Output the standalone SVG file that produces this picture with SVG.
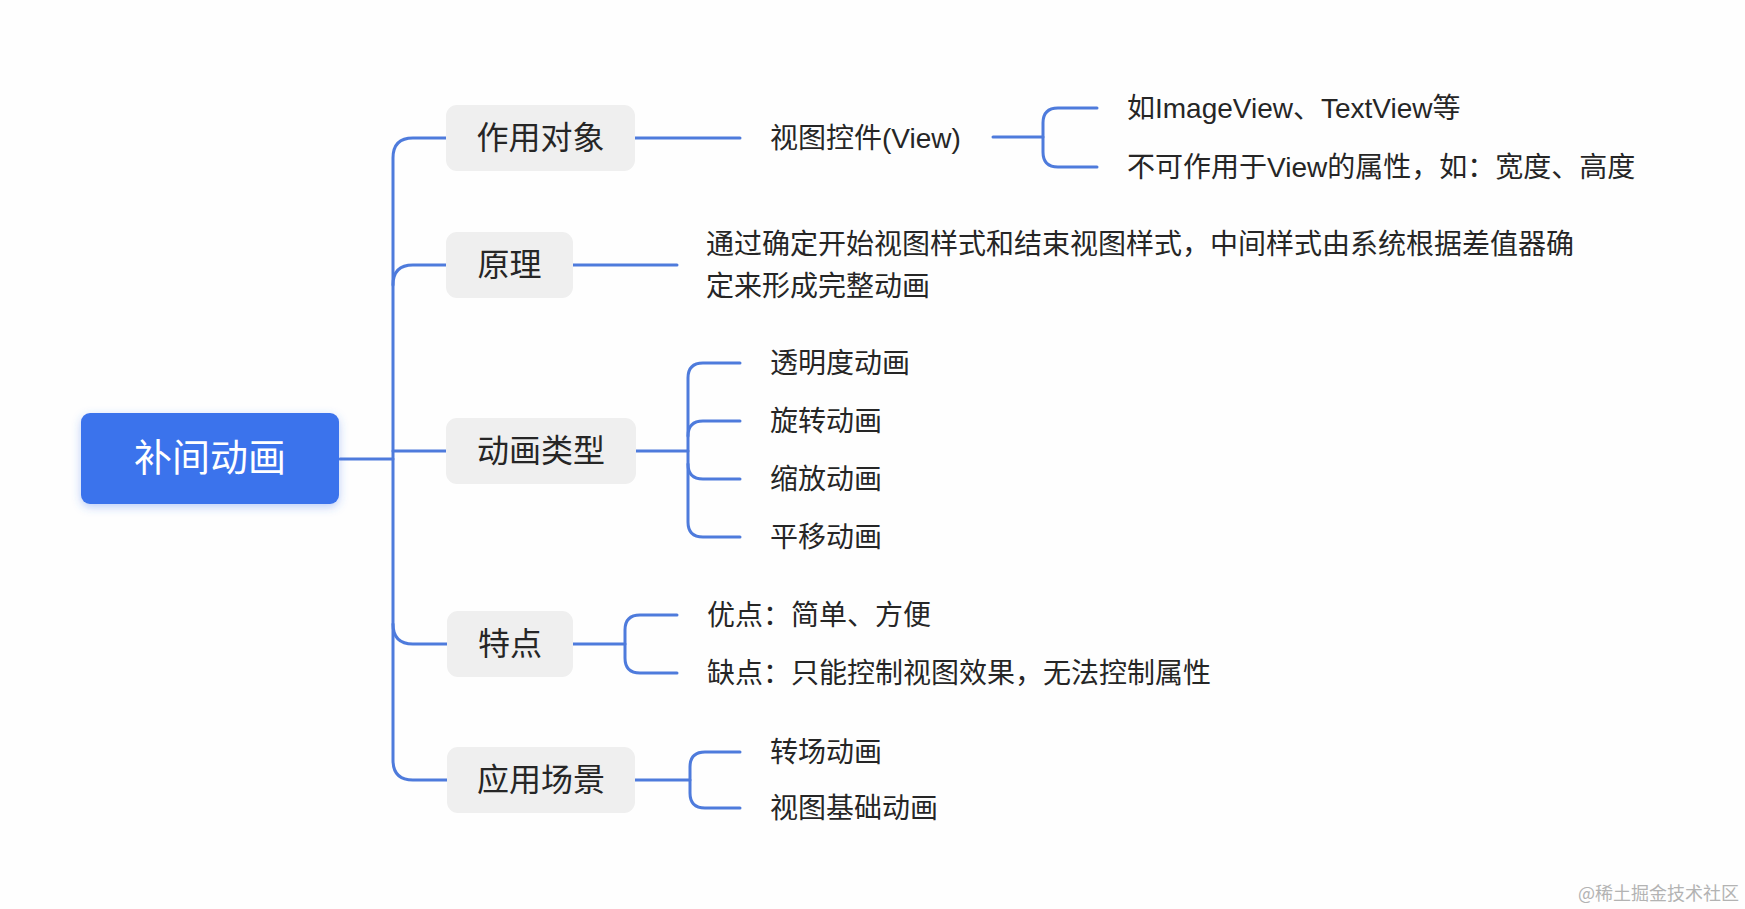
<svg xmlns="http://www.w3.org/2000/svg" width="1745" height="909" viewBox="0 0 1745 909">
  <defs>
    <style>
      .ln { fill: none; stroke: #4e7bdc; stroke-width: 3; stroke-linecap: round; stroke-linejoin: round; }
      .box { fill: #efefef; }
      .t { font-family: "Liberation Sans", "Noto Sans CJK SC", sans-serif; dominant-baseline: central; fill: #262626; }
      .leaf { font-size: 28px; }
      .br { font-size: 32px; text-anchor: middle; }
      .root { font-size: 38px; text-anchor: middle; fill: #ffffff; }
      .wm { font-family: "Noto Sans CJK SC", sans-serif; font-size: 18px; fill: #b3b3b3; dominant-baseline: central; }
    </style>
    <filter id="sh" x="-20%" y="-30%" width="140%" height="160%">
      <feDropShadow dx="0" dy="3" stdDeviation="5" flood-color="#3b73ec" flood-opacity="0.35"/>
    </filter>
  </defs>
  <rect width="1745" height="909" fill="#fefefe"/>

  <g id="connectors">
    <path class="ln" d="M340,459 L393,459"/>
    <path class="ln" d="M446,138 L413,138 Q393,138 393,158 L393,760 Q393,780 413,780 L447,780"/>
    <path class="ln" d="M393,285 Q393,265 413,265 L446,265"/>
    <path class="ln" d="M393,451 L446,451"/>
    <path class="ln" d="M393,624 Q393,644 413,644 L447,644"/>

    <path class="ln" d="M635,138 L740,138"/>
    <path class="ln" d="M993,137 L1043,137"/>
    <path class="ln" d="M1097,108 L1058,108 Q1043,108 1043,123 L1043,152 Q1043,167 1058,167 L1097,167"/>

    <path class="ln" d="M573,265 L677,265"/>

    <path class="ln" d="M636,451 L688,451"/>
    <path class="ln" d="M740,363 L703,363 Q688,363 688,378 L688,522 Q688,537 703,537 L740,537"/>
    <path class="ln" d="M688,436 Q688,421 703,421 L740,421"/>
    <path class="ln" d="M688,464 Q688,479 703,479 L740,479"/>

    <path class="ln" d="M573,644 L625,644"/>
    <path class="ln" d="M677,615 L640,615 Q625,615 625,630 L625,658 Q625,673 640,673 L677,673"/>

    <path class="ln" d="M635,780 L690,780"/>
    <path class="ln" d="M740,752 L705,752 Q690,752 690,767 L690,793 Q690,808 705,808 L740,808"/>
  </g>

  <g id="root">
    <rect x="81" y="413" width="258" height="91" rx="9" fill="#3b73ec" filter="url(#sh)"/>
    <text class="t root" x="210" y="458">补间动画</text>
  </g>

  <g id="n-target">
    <rect class="box" x="446" y="105" width="189" height="66" rx="11"/>
    <text class="t br" x="540.5" y="138">作用对象</text>
  </g>
  <g id="n-view">
    <text class="t leaf" x="770" y="138">视图控件(View)</text>
  </g>
  <g id="n-view-1">
    <text class="t leaf" x="1127" y="108">如ImageView、TextView等</text>
  </g>
  <g id="n-view-2">
    <text class="t leaf" x="1127" y="167">不可作用于View的属性，如：宽度、高度</text>
  </g>

  <g id="n-principle">
    <rect class="box" x="446" y="232" width="127" height="66" rx="11"/>
    <text class="t br" x="509.5" y="265">原理</text>
  </g>
  <g id="n-principle-text">
    <text class="t leaf" x="706" y="244">通过确定开始视图样式和结束视图样式，中间样式由系统根据差值器确</text>
    <text class="t leaf" x="706" y="286">定来形成完整动画</text>
  </g>

  <g id="n-types">
    <rect class="box" x="446" y="418" width="190" height="66" rx="11"/>
    <text class="t br" x="541" y="451">动画类型</text>
  </g>
  <g id="n-type-1"><text class="t leaf" x="770" y="363">透明度动画</text></g>
  <g id="n-type-2"><text class="t leaf" x="770" y="421">旋转动画</text></g>
  <g id="n-type-3"><text class="t leaf" x="770" y="479">缩放动画</text></g>
  <g id="n-type-4"><text class="t leaf" x="770" y="537">平移动画</text></g>

  <g id="n-features">
    <rect class="box" x="447" y="611" width="126" height="66" rx="11"/>
    <text class="t br" x="510" y="644">特点</text>
  </g>
  <g id="n-feature-1"><text class="t leaf" x="707" y="615">优点：简单、方便</text></g>
  <g id="n-feature-2"><text class="t leaf" x="707" y="673">缺点：只能控制视图效果，无法控制属性</text></g>

  <g id="n-usage">
    <rect class="box" x="447" y="747" width="188" height="66" rx="11"/>
    <text class="t br" x="541" y="780">应用场景</text>
  </g>
  <g id="n-usage-1"><text class="t leaf" x="770" y="752">转场动画</text></g>
  <g id="n-usage-2"><text class="t leaf" x="770" y="808">视图基础动画</text></g>

  <text class="wm" x="1578" y="892">@稀土掘金技术社区</text>
</svg>
